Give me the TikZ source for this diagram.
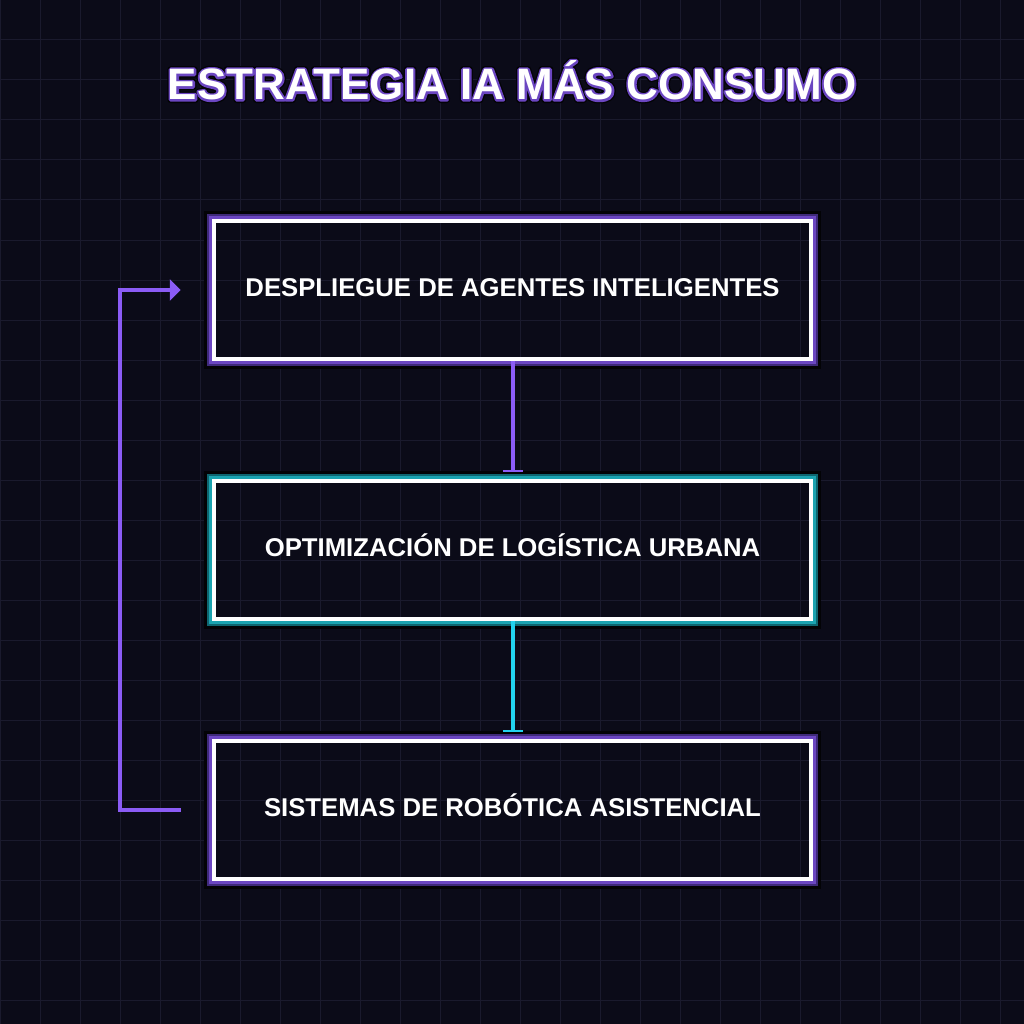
\documentclass[tikz,border=0pt]{standalone}
\usepackage{fontspec}
\setmainfont{Liberation Sans}
\newfontfamily\titlefont{Liberation Sans Bold}
\newfontfamily\titlehalo[FakeBold=9]{Liberation Sans Bold}
\newfontfamily\titleshadow[FakeBold=15]{Liberation Sans Bold}
\usetikzlibrary{arrows.meta, positioning}

\definecolor{bgnight}{HTML}{0B0B18}
\definecolor{gridnight}{HTML}{1A1A2D}
\definecolor{neonviolet}{HTML}{8B5CF6}
\definecolor{neoncyan}{HTML}{22D3EE}
\definecolor{violetglow}{HTML}{6B46C1}
\definecolor{violetdeep}{HTML}{3F2A7A}
\definecolor{tealglow}{HTML}{1BA3B0}
\definecolor{tealdeep}{HTML}{0E6670}
\definecolor{shadowblk}{HTML}{030306}

\tikzset{
    stagebox/.style={rectangle, draw=white, line width=4pt, outer sep=0pt, minimum width=597.5pt, minimum height=137.5pt, text=white, font=\bfseries\fontsize{25.7}{30}\selectfont, text height=18pt, text depth=5pt, align=center},
    glowline/.style={draw=#1, line width=3pt},
    flowline/.style={draw=#1, line width=4pt, shorten <=2pt, shorten >=9pt, -{Bar[width=20pt, line width=2pt]}},
    loopline/.style={draw=neonviolet, line width=3.5pt, shorten <=33pt, shorten >=33pt, -{Triangle[length=11pt, width=21pt]}},
    titletext/.style={text=#1, line join=round, miter limit=1, font=\fontsize{44}{50}\selectfont, text height=31.5pt, text depth=0pt}
}

% three-step halo round a box: node, light colour, deep colour
\newcommand{\glowframe}[3]{%
    \draw[glowline=#2] ([shift={(-3.5,-3.5)}]#1.north west) rectangle ([shift={(3.5,3.5)}]#1.south east);
    \draw[glowline=#3, line width=2pt] ([shift={(-6,-6)}]#1.north west) rectangle ([shift={(6,6)}]#1.south east);
    \draw[glowline=shadowblk] ([shift={(-8.5,-8.5)}]#1.north west) rectangle ([shift={(8.5,8.5)}]#1.south east);
}

\begin{document}
\begin{tikzpicture}[x=1pt, y=-1pt, node distance=122.5pt]

\fill[bgnight] (0,0) rectangle (1024,1024);
\useasboundingbox (0,0) rectangle (1024,1024);
\foreach \g in {0,40,...,1000} {
    \draw[gridnight, line width=1pt] (\g,0) -- (\g,1024);
    \draw[gridnight, line width=1pt] (0,\g) -- (1024,\g);
}

% title, stacked: dark rim, violet rim, white face
\begin{scope}[line join=round, miter limit=1]
\node[titletext=shadowblk] (titleshade) at (512,84) {\titleshadow ESTRATEGIA IA MÁS CONSUMO};
\node[titletext=violetglow] (titlehalo) at (titleshade) {\titlehalo ESTRATEGIA IA MÁS CONSUMO};
\node[titletext=white] (title) at (titleshade) {\titlefont ESTRATEGIA IA MÁS CONSUMO};
\end{scope}

% stages
\node[stagebox] (agents) at (512.5,290) {DESPLIEGUE DE AGENTES INTELIGENTES};
\node[stagebox, below=of agents] (logistics) {OPTIMIZACIÓN DE LOGÍSTICA URBANA};
\node[stagebox, below=of logistics] (robotics) {SISTEMAS DE ROBÓTICA ASISTENCIAL};

\glowframe{agents}{violetglow}{violetdeep}
\glowframe{logistics}{tealglow}{tealdeep}
\glowframe{robotics}{violetglow}{violetdeep}

% links
\draw[flowline=neonviolet] (agents.south) -- (logistics.north);
\draw[flowline=neoncyan] (logistics.south) -- (robotics.north);
\draw[loopline] (robotics.west) -- ++(-94,0) |- (agents.west);

\end{tikzpicture}
\end{document}
